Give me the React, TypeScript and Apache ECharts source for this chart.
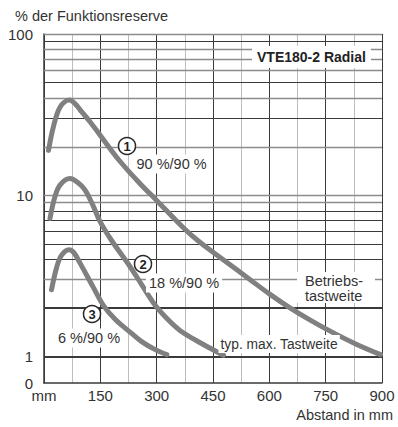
import React, { useEffect, useRef } from 'react';
import * as echarts from 'echarts';

// distances in mm, function reserve in %
const curve1Dist = [12, 25, 43, 68, 85, 100, 123, 150, 200, 256, 300, 371, 416, 480, 549, 600, 656, 710, 772, 830, 896];
const curve1Reserve = [19, 26.6, 35.3, 39, 36.5, 33, 28.5, 23.5, 16.5, 11.8, 9.3, 6.3, 5.1, 3.95, 3.0, 2.45, 2.0, 1.68, 1.4, 1.2, 1.03];

const curve2Dist = [16, 29, 43, 69, 90, 109, 130, 149, 180, 228, 260, 295, 330, 363, 416, 478];
const curve2Reserve = [7.2, 9.8, 11.6, 12.7, 12.0, 10.8, 8.7, 6.9, 5.25, 3.65, 2.8, 2.1, 1.7, 1.45, 1.22, 1.02];

const curve3Dist = [20, 34, 47, 67, 80, 96, 131, 160, 190, 229, 260, 295, 327];
const curve3Reserve = [2.6, 3.6, 4.26, 4.6, 4.4, 3.8, 2.7, 2.05, 1.7, 1.42, 1.24, 1.11, 1.03];

const xTickValues = [0, 150, 300, 450, 600, 750, 900];
const xTickLabels = ['mm', '150', '300', '450', '600', '750', '900'];
const yTickLabels = ['0', '1', '10', '100'];
const hGridValues = [1, 2, 3, 4, 5, 6, 7, 8, 9, 10, 20, 30, 40, 50, 60, 70, 80, 90, 100];
const hGridGray = [3, 9, 10, 20, 40, 60, 70, 80, 100];
const hGridThick = [1, 2];

const FONT = '"Liberation Sans", Arial, sans-serif';
const DARK = '#3a3a3a';
const GRAY = '#8c8c8c';
const CURVE = '#808080';
const TEXT = '#333';

function pairs(xs: number[], ys: number[]) {
  return xs.map((x, i) => [x, ys[i]]);
}

export default function App() {
  const ref = useRef<HTMLDivElement>(null);
  useEffect(() => {
    if (!ref.current) return;
    const chart = echarts.init(ref.current, null, { renderer: 'svg' });
    const curveSeries = (data: number[][]) => ({
      type: 'line',
      data,
      smooth: 0.35,
      showSymbol: false,
      symbol: 'none',
      z: 5,
      lineStyle: { color: CURVE, width: 5, cap: 'round', join: 'round' },
    });
    const txt = (text: string, x: number, y: number, extra: any = {}) => ({
      type: 'text',
      x,
      y,
      z: 100,
      style: {
        text,
        fill: TEXT,
        fontFamily: FONT,
        fontSize: 14.5,
        verticalAlign: 'middle',
        align: 'left',
        ...extra,
      },
    });
    const circled = (digit: string, x: number, y: number) => ({
      type: 'group',
      z: 100,
      children: [
        {
          type: 'circle',
          z: 100,
          shape: { cx: x, cy: y, r: 8.5 },
          style: { fill: '#fff', stroke: '#2a2a2a', lineWidth: 1.5 },
        },
        {
          type: 'text',
          z: 101,
          x,
          y: y + 0.5,
          style: {
            text: digit,
            fill: '#222',
            fontFamily: FONT,
            fontWeight: 'bold',
            fontSize: 13,
            align: 'center',
            verticalAlign: 'middle',
          },
        },
      ],
    });
    chart.setOption({
      animation: false,
      grid: { left: 44, right: 16, top: 34, bottom: 44 },
      xAxis: {
        type: 'value',
        min: 0,
        max: 900,
        interval: 75,
        axisLine: { show: true, lineStyle: { color: DARK, width: 1.5 } },
        axisTick: { show: false },
        axisLabel: {
          color: TEXT,
          fontFamily: FONT,
          fontSize: 15,
          margin: 5,
          formatter: (v: number) => {
            const i = xTickValues.indexOf(v);
            return i >= 0 ? xTickLabels[i] : '';
          },
        },
        splitLine: { show: true, lineStyle: { color: [DARK, '#bdbdbd'], width: 1 } },
      },
      yAxis: {
        type: 'log',
        logBase: 10,
        min: 0.687,
        max: 100,
        axisLine: { show: true, lineStyle: { color: DARK, width: 1.5 } },
        axisTick: { show: false },
        splitLine: { show: false },
        axisLabel: {
          color: TEXT,
          fontFamily: FONT,
          fontSize: 15,
          margin: 11,
          showMinLabel: true,
          formatter: (v: number) => {
            if (v < 0.95) return yTickLabels[0];
            const s = String(Math.round(v));
            return yTickLabels.indexOf(s) >= 0 ? s : '';
          },
        },
      },
      series: [
        {
          type: 'line',
          data: [],
          z: 1,
          silent: true,
          markLine: {
            silent: true,
            symbol: 'none',
            label: { show: false },
            emphasis: { disabled: true },
            data: hGridValues.map((v) => ({
              yAxis: v,
              lineStyle: {
                type: 'solid',
                color: hGridGray.indexOf(v) >= 0 ? GRAY : DARK,
                width: hGridThick.indexOf(v) >= 0 ? 2 : hGridGray.indexOf(v) >= 0 ? 1.3 : 1,
              },
            })),
          },
        },
        curveSeries(pairs(curve1Dist, curve1Reserve)),
        curveSeries(pairs(curve2Dist, curve2Reserve)),
        curveSeries(pairs(curve3Dist, curve3Reserve)),
      ],
      graphic: [
        txt('% der Funktionsreserve', 15, 16),
        txt('Abstand in mm', 393, 415, { align: 'right' }),
        txt('VTE180-2 Radial', 252, 57, {
          fontWeight: 'bold',
          fontSize: 14,
          fill: '#222',
          backgroundColor: '#fff',
          padding: [4, 5, 4, 5],
        }),
        circled('1', 127, 146),
        txt('90 %/90 %', 134.5, 164, { backgroundColor: '#fff', padding: [2, 2] }),
        circled('2', 143, 264),
        txt('18 %/90 %', 146, 283, { backgroundColor: '#fff', padding: [2, 3] }),
        circled('3', 92, 314),
        txt('6 %/90 %', 56, 338, { backgroundColor: '#fff', padding: [2, 2] }),
        {
          type: 'rect',
          z: 99,
          shape: { x: 297, y: 272, width: 78, height: 31 },
          style: { fill: '#fff' },
        },
        txt('Betriebs-', 305, 280.5, { fontSize: 14.5 }),
        txt('tastweite', 305, 295.5, { fontSize: 14.5 }),
        txt('typ. max. Tastweite', 218.5, 344, {
          fontSize: 13.8,
          backgroundColor: '#fff',
          padding: [2, 2],
        }),
      ],
    });
    return () => chart.dispose();
  }, []);
  return (
    <div
      ref={ref}
      style={{ position: 'absolute', left: 0, top: 0, width: 398, height: 427 }}
    />
  );
}
